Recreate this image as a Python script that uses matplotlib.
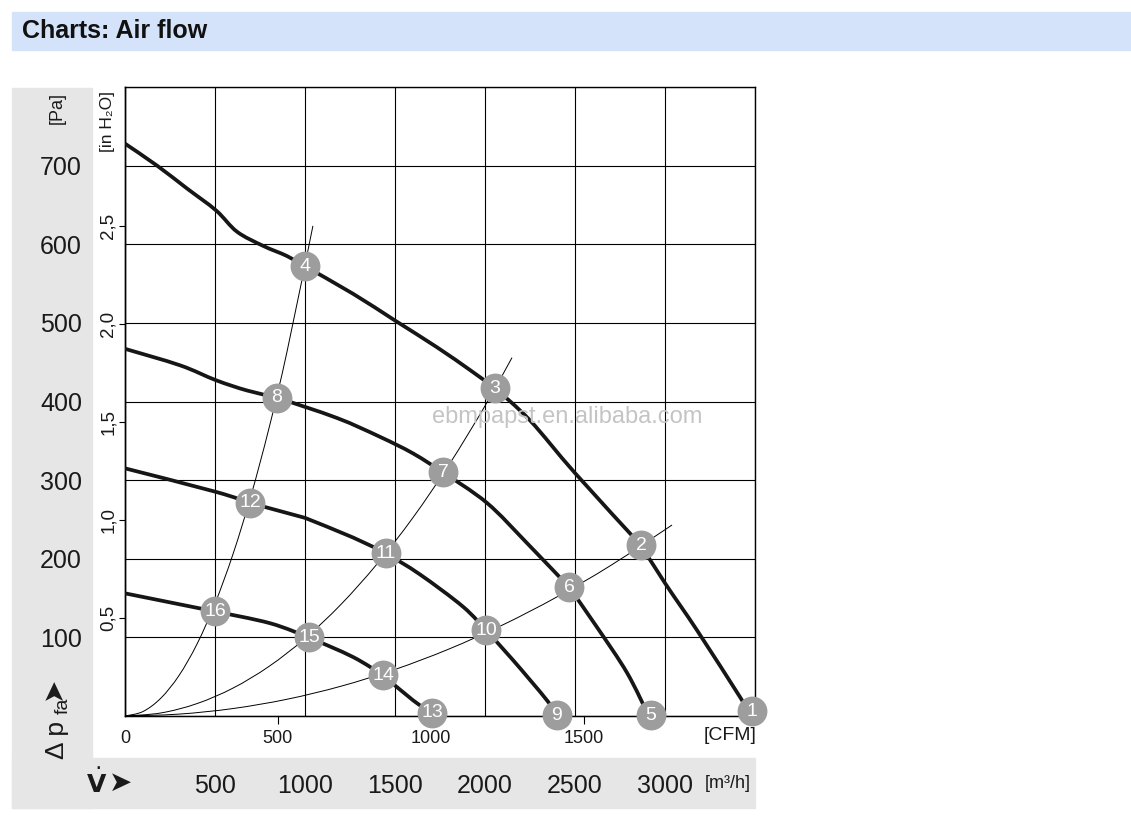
import matplotlib
matplotlib.use("Agg")
import matplotlib.pyplot as plt
from matplotlib.patches import Rectangle, PathPatch
from matplotlib.path import Path

# fan curves: flow in m3/h, static pressure in Pa
curve1_flow = [0, 178, 344, 506, 622, 767, 900, 1000, 1267, 1500, 1733, 1917, 2056, 2250,
               2500, 2867, 3000, 3178, 3417, 3480]
curve1_pa = [728, 700, 671, 643, 616, 598, 585, 572, 537, 503, 469, 440, 417, 376,
             309, 217, 169, 109, 24, 0]

curve2_flow = [0, 306, 506, 678, 844, 1178, 1417, 1600, 1767, 2011, 2233, 2467, 2622,
               2789, 2910]
curve2_pa = [467, 446, 427, 414, 405, 379, 355, 334, 310, 271, 220, 164, 113,
             55, 0]

curve3_flow = [0, 506, 694, 1000, 1267, 1450, 1639, 1878, 2006, 2156, 2344, 2400]
curve3_pa = [315, 285, 271, 252, 227, 207, 180, 139, 109, 71, 20, 0]

curve4_flow = [0, 500, 806, 1022, 1267, 1433, 1600, 1706]
curve4_pa = [156, 133, 118, 100, 75, 52, 20, 4]

# thin system lines through the operating points
sysA_flow = [0, 100, 200, 300, 400, 500, 600, 700, 800, 900, 1044]
sysA_pa = [0, 5.7, 22.9, 51.5, 91.5, 143.0, 205.9, 280.3, 366.1, 463.3, 623.4]
sysB_flow = [0, 200, 400, 600, 800, 1000, 1200, 1400, 1600, 1800, 2000, 2150]
sysB_pa = [0, 3.9, 15.8, 35.5, 63.1, 98.6, 142.0, 193.3, 252.4, 319.5, 394.4, 455.8]
sysC_flow = [0, 300, 600, 900, 1200, 1500, 1800, 2100, 2400, 2700, 3039]
sysC_pa = [0, 2.4, 9.5, 21.3, 37.9, 59.2, 85.2, 116.0, 151.5, 191.7, 242.9]

# numbered operating points
point_no = [1, 2, 3, 4, 5, 6, 7, 8, 9, 10, 11, 12, 13, 14, 15, 16]
point_flow = [3483, 2867, 2056, 1000, 2922, 2467, 1767, 844, 2400, 2006, 1450, 694, 1706, 1433, 1022, 500]
point_pa = [6, 217, 417, 572, 1, 164, 310, 405, 1, 109, 207, 271, 4, 52, 100, 133]

m3h_ticks = [0, 500, 1000, 1500, 2000, 2500, 3000, 3500]
m3h_labels = ['', '500', '1000', '1500', '2000', '2500', '3000', '']
pa_ticks = [0, 100, 200, 300, 400, 500, 600, 700, 800]
pa_labels = ['', '100', '200', '300', '400', '500', '600', '700', '']
inh2o_ticks = [0.5, 1.0, 1.5, 2.0, 2.5]
inh2o_labels = ['0,5', '1,0', '1,5', '2,0', '2,5']
cfm_ticks = [0, 500, 1000, 1500]
cfm_labels = ['0', '500', '1000', '1500']

plt.rcParams['font.family'] = ['Liberation Sans', 'DejaVu Sans']
INK = '#1a1a1a'

W, H = 1131, 836
fig = plt.figure(figsize=(W / 100, H / 100), dpi=100)


def fx(px):
    return px / W


def fy(py):
    return 1 - py / H


def smooth_line(ax, xs, ys, breaks=(), **kw):
    # smooth curve through the read points (Catmull-Rom as Bezier segments);
    # the tangent is one-sided at points listed in breaks (they sit under a marker)
    pts = list(zip(xs, ys))
    n = len(pts)
    verts = [pts[0]]
    codes = [Path.MOVETO]
    for i in range(n - 1):
        p1 = pts[i]
        p2 = pts[i + 1]
        p0 = pts[i - 1] if (i > 0 and xs[i] not in breaks) else p1
        p3 = pts[i + 2] if (i + 2 < n and xs[i + 1] not in breaks) else p2
        c1 = (p1[0] + (p2[0] - p0[0]) / 6, p1[1] + (p2[1] - p0[1]) / 6)
        c2 = (p2[0] - (p3[0] - p1[0]) / 6, p2[1] - (p3[1] - p1[1]) / 6)
        verts += [c1, c2, p2]
        codes += [Path.CURVE4] * 3
    ax.add_patch(PathPatch(Path(verts, codes), fill=False, **kw))


# background panels (behind the axes)
fig.patches.append(Rectangle((fx(12), fy(50)), (W - 12) / W, 38 / H,
                             transform=fig.transFigure, color='#d5e3fa', zorder=-1))
fig.patches.append(Rectangle((fx(12), fy(808)), 80 / W, 720 / H,
                             transform=fig.transFigure, color='#e6e6e6', zorder=-1))
fig.patches.append(Rectangle((fx(12), fy(808)), 743 / W, 50 / H,
                             transform=fig.transFigure, color='#e6e6e6', zorder=-1))

fig.text(fx(22), fy(31), "Charts: Air flow", fontsize=18, fontweight='bold',
         va='center', ha='left', color='#111111')

ax = fig.add_axes([fx(125), fy(716), 630 / W, 629 / H])
ax.set_xlim(0, 3500)
ax.set_ylim(0, 800)
for s in ax.spines.values():
    s.set_linewidth(1.0)
ax.set_xticks(m3h_ticks)
ax.set_xticklabels(m3h_labels, fontsize=18, color=INK)
ax.set_yticks(pa_ticks)
ax.set_yticklabels(pa_labels, fontsize=18, color=INK)
ax.tick_params(axis='x', length=0, pad=42)
ax.tick_params(axis='y', length=0, pad=31)
ax.grid(True, color='black', lw=0.8)
ax.set_axisbelow(True)

# secondary scales: inch water column and CFM
sec_y = ax.secondary_yaxis('left', functions=(lambda p: p / 249.09, lambda i: i * 249.09))
sec_y.set_yticks(inh2o_ticks)
sec_y.set_yticklabels(inh2o_labels, rotation=90, va='center')
sec_y.tick_params(length=4, width=0.8, pad=2, labelsize=13.5, labelcolor=INK)
sec_y.spines['left'].set_linewidth(1.0)

sec_x = ax.secondary_xaxis('bottom', functions=(lambda v: v / 1.699, lambda c: c * 1.699))
sec_x.set_xticks(cfm_ticks)
sec_x.set_xticklabels(cfm_labels)
sec_x.tick_params(length=6, width=0.8, pad=4, labelsize=13, labelcolor=INK)
sec_x.xaxis.get_major_ticks()[0].tick1line.set_visible(False)

# system lines
for v, p in [(sysA_flow, sysA_pa), (sysB_flow, sysB_pa), (sysC_flow, sysC_pa)]:
    smooth_line(ax, v, p, edgecolor='black', lw=0.7, zorder=2)

# fan curves
for v, p in [(curve1_flow, curve1_pa), (curve2_flow, curve2_pa),
             (curve3_flow, curve3_pa), (curve4_flow, curve4_pa)]:
    smooth_line(ax, v, p, breaks=point_flow, edgecolor='#161616', lw=2.7,
                capstyle='butt', zorder=3)

ax.plot(point_flow, point_pa, 'o', ms=21.5, mfc='#9d9d9d', mec='none',
        zorder=5, clip_on=False)
for n, v, p in zip(point_no, point_flow, point_pa):
    ax.text(v, p, str(n), ha='center', va='center', color='white',
            fontsize=14, zorder=6, clip_on=False)

# watermark
fig.text(fx(567), fy(417), "ebmpapst.en.alibaba.com", fontsize=17,
         color='#c4c4c4', ha='center', va='center', zorder=10)

# axis captions
fig.text(fx(57), fy(108), "[Pa]", rotation=90, fontsize=13, ha='center', va='center', color=INK)
fig.text(fx(108), fy(121), "[in H₂O]", rotation=90, fontsize=12.5, ha='center', va='center', color=INK)
fig.text(fx(57), fy(740), "Δ p", rotation=90, fontsize=19, ha='center', va='center', color=INK)
fig.text(fx(63), fy(706), "fa", rotation=90, fontsize=14, ha='center', va='center', color=INK)
fig.text(fx(53), fy(688), "➤", rotation=90, fontsize=20, ha='center', va='center',
         family=['DejaVu Sans'], color=INK)
fig.text(fx(730), fy(736), "[CFM]", fontsize=14, ha='center', va='center', color=INK)
fig.text(fx(728), fy(783), "[m³/h]", fontsize=13, ha='center', va='center', color=INK)
fig.text(fx(97), fy(783), r"$\dot{\mathbf{V}}$", fontsize=18, ha='center', va='center', color=INK)
fig.text(fx(121), fy(783), "➤", fontsize=20, ha='center', va='center',
         family=['DejaVu Sans'], color=INK)

fig.savefig("out.png", dpi=100)
